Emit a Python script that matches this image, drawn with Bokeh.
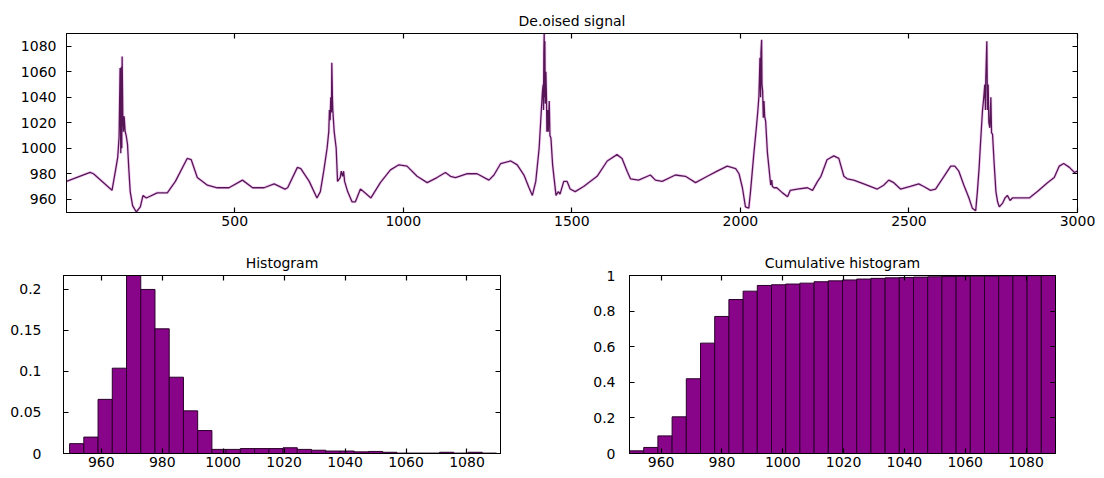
import numpy as np
from bokeh.plotting import figure
from bokeh.layouts import column, row
from bokeh.models import FixedTicker, LinearAxis, Range1d, ColumnDataSource
from bokeh.embed import file_html
from bokeh.resources import INLINE

# ---------------- data ----------------
sig_x = [1, 71, 81, 136, 146, 153, 157, 160, 162, 164, 165, 166, 168, 170, 172, 175, 178, 182, 186, 190,
         197, 208, 220, 228, 238, 270, 300, 324, 359, 371, 389, 419, 448, 483, 523, 553, 587, 617, 649, 657,
         686, 696, 721, 744, 754, 764, 774, 779, 781, 783, 785, 787, 788, 790, 791, 795, 801, 805, 813, 816,
         820, 823, 826, 835, 848, 858, 873, 882, 904, 932, 962, 987, 1011, 1041, 1071, 1100, 1125, 1140, 1155, 1190,
         1219, 1254, 1269, 1289, 1319, 1338, 1358, 1373, 1383, 1393, 1403, 1410, 1413, 1415, 1416, 1417, 1418, 1419, 1420, 1421,
         1423, 1425, 1426, 1428, 1430, 1433, 1435, 1438, 1443, 1448, 1453, 1460, 1465, 1476, 1486, 1495, 1510, 1535, 1575, 1605,
         1634, 1649, 1664, 1674, 1698, 1733, 1748, 1768, 1807, 1837, 1867, 1902, 1931, 1961, 1986, 1996, 2006, 2015, 2025, 2030,
         2040, 2048, 2052, 2055, 2057, 2058, 2060, 2061, 2063, 2064, 2066, 2068, 2070, 2072, 2075, 2080, 2090, 2093, 2095, 2100,
         2108, 2125, 2140, 2148, 2169, 2199, 2214, 2229, 2239, 2257, 2277, 2292, 2307, 2317, 2336, 2366, 2406, 2425, 2440, 2455,
         2475, 2504, 2529, 2544, 2564, 2579, 2604, 2624, 2636, 2648, 2663, 2678, 2688, 2698, 2703, 2708, 2713, 2718, 2722, 2725,
         2727, 2728, 2731, 2733, 2735, 2737, 2740, 2743, 2745, 2748, 2753, 2758, 2763, 2768, 2778, 2785, 2792, 2800, 2807, 2827,
         2857, 2881, 2911, 2931, 2946, 2959, 2976, 2991, 3000]
sig_y = [974, 981, 980, 967, 982, 993, 1009, 1063, 996, 1064, 1000, 1072, 1026, 1013, 1025, 1013, 1010, 1003, 983, 966,
         955, 950, 954, 963, 961, 965, 965, 974, 992, 991, 977, 971, 969, 969, 975, 969, 969, 972, 968, 969,
         985, 984, 974, 961, 966, 982, 1000, 1013, 1030, 1022, 1040, 1028, 1067, 1038, 1030, 1013, 1000, 974, 977, 982,
         978, 982, 974, 966, 958, 958, 968, 966, 961, 973, 983, 987, 986, 978, 973, 977, 981, 978, 977, 980,
         980, 975, 979, 988, 990, 987, 979, 969, 963, 974, 1000, 1032, 1045, 1050, 1030, 1075, 1090, 1040, 1084, 1035,
         1060, 1037, 1013, 1030, 1013, 1037, 1010, 1008, 987, 975, 963, 966, 964, 974, 974, 968, 966, 970, 978, 990,
         995, 992, 982, 976, 975, 979, 975, 974, 979, 978, 973, 978, 982, 986, 984, 980, 969, 954, 953, 966,
         996, 1018, 1030, 1041, 1060, 1071, 1040, 1075, 1085, 1050, 1045, 1024, 1037, 1025, 1021, 997, 971, 975, 970, 969,
         969, 965, 962, 967, 968, 969, 967, 974, 978, 991, 994, 992, 978, 976, 975, 972, 968, 971, 975, 973,
         968, 970, 972, 970, 967, 968, 978, 986, 986, 982, 971, 961, 953, 951, 966, 984, 1007, 1029, 1040, 1050,
         1030, 1055, 1084, 1030, 1050, 1020, 1016, 1040, 1012, 1011, 987, 966, 958, 954, 957, 961, 963, 959, 961, 961,
         961, 966, 973, 977, 986, 988, 985, 981, 982]

hist_start = 949.6
hist_bin_width = 4.67
hist_vals = [0.012, 0.020, 0.066, 0.104, 0.217, 0.200, 0.152, 0.093, 0.052, 0.028,
             0.005, 0.005, 0.006, 0.006, 0.006, 0.007, 0.005, 0.004, 0.003, 0.003,
             0.002, 0.0025, 0.0015, 0.0005, 0.0005, 0.0005, 0.0015, 0.0005, 0.0015, 0.0005]
cum_vals = [0.015, 0.034, 0.099, 0.206, 0.42, 0.62, 0.77, 0.865, 0.912, 0.944,
            0.948, 0.952, 0.957, 0.965, 0.970, 0.975, 0.980, 0.984, 0.987, 0.989,
            0.991, 0.993, 0.994, 0.995, 0.996, 0.997, 0.998, 0.999, 0.9995, 1.0]

sig_xticks = [500, 1000, 1500, 2000, 2500, 3000]
sig_yticks = [960, 980, 1000, 1020, 1040, 1060, 1080]
hist_xticks = [960, 980, 1000, 1020, 1040, 1060, 1080]
hist_yticks = [0, 0.05, 0.1, 0.15, 0.2]
hist_ylabels = ["0", "0.05", "0.1", "0.15", "0.2"]
cum_yticks = [0, 0.2, 0.4, 0.6, 0.8, 1]
cum_ylabels = ["0", "0.2", "0.4", "0.6", "0.8", "1"]

FONT = "DejaVu Sans"
FS = "14px"
TFS = "14px"
LINE_COL = "#561656"
BAR_FILL = "#880488"
BAR_LINE = "#2a002a"


def style(p, xticks, yticks, ylabels=None, ystand=10):
    p.outline_line_color = "black"
    p.outline_line_width = 1
    p.xgrid.visible = False
    p.ygrid.visible = False
    p.title.text_font = FONT
    p.title.text_font_size = TFS
    p.title.text_font_style = "normal"
    p.title.align = "center"
    p.title.text_color = "black"
    for ax, ticks, labels in ((p.xaxis[0], xticks, None), (p.yaxis[0], yticks, ylabels)):
        ax.ticker = FixedTicker(ticks=ticks)
        ax.major_tick_in = 5
        ax.major_tick_out = 0
        ax.minor_tick_line_color = None
        ax.axis_line_color = "black"
        ax.major_tick_line_color = "black"
        ax.major_tick_line_width = 1.2
        ax.major_label_text_font = FONT
        ax.major_label_text_font_size = FS
        ax.major_label_text_color = "black"
        if labels is not None:
            ax.major_label_overrides = {t: l for t, l in zip(ticks, labels)}
    p.xaxis[0].major_label_standoff = 3
    p.yaxis[0].major_label_standoff = ystand
    # mirrored inside ticks on top and right (MATLAB box)
    for loc, ticks in (("above", xticks), ("right", yticks)):
        ax = LinearAxis(ticker=FixedTicker(ticks=ticks), major_tick_in=5, major_tick_out=0,
                        minor_tick_line_color=None, axis_line_color="black",
                        major_tick_line_color="black", major_tick_line_width=1.2,
                        major_label_text_color=None,
                        major_label_text_font_size="1px", major_label_standoff=0)
        p.add_layout(ax, loc)


# ---------------- top: signal ----------------
p1 = figure(width=1104, height=238, output_backend="svg", toolbar_location=None,
            title="De.oised signal", x_range=Range1d(1, 3000), y_range=Range1d(949.6, 1090),
            min_border_left=66, min_border_right=27, min_border_top=33, min_border_bottom=26)
src = ColumnDataSource(dict(x=sig_x, y=sig_y))
p1.line("x", "y", source=src, line_color="#f4d0f4", line_width=3)
p1.line("x", "y", source=src, line_color=LINE_COL, line_width=1.3)
style(p1, sig_xticks, sig_yticks, ystand=10)

# ---------------- histogram ----------------
edges = hist_start + hist_bin_width * np.arange(len(hist_vals) + 1)
hsrc = ColumnDataSource(dict(left=edges[:-1], right=edges[1:], top=hist_vals))
p2 = figure(width=560, height=240, output_backend="svg", toolbar_location=None,
            title="Histogram", x_range=Range1d(947.6, 1091), y_range=Range1d(0, max(hist_vals)),
            min_border_left=63, min_border_right=60, min_border_top=37, min_border_bottom=25)
p2.quad(left="left", right="right", top="top", bottom=0, source=hsrc,
        fill_color=BAR_FILL, line_color=BAR_LINE, line_width=1)
style(p2, hist_xticks, hist_yticks, hist_ylabels, ystand=22)

# ---------------- cumulative histogram ----------------
csrc = ColumnDataSource(dict(left=edges[:-1], right=edges[1:], top=cum_vals))
p3 = figure(width=544, height=240, output_backend="svg", toolbar_location=None,
            title="Cumulative histogram", x_range=Range1d(edges[0], edges[-1]), y_range=Range1d(0, 1),
            min_border_left=69, min_border_right=49, min_border_top=37, min_border_bottom=25)
p3.quad(left="left", right="right", top="top", bottom=0, source=csrc,
        fill_color=BAR_FILL, line_color=BAR_LINE, line_width=1)
style(p3, hist_xticks, cum_yticks, cum_ylabels, ystand=14)

layout = column(p1, row(p2, p3, spacing=0), spacing=0)
open("out.html", "w").write(file_html(layout, INLINE))
